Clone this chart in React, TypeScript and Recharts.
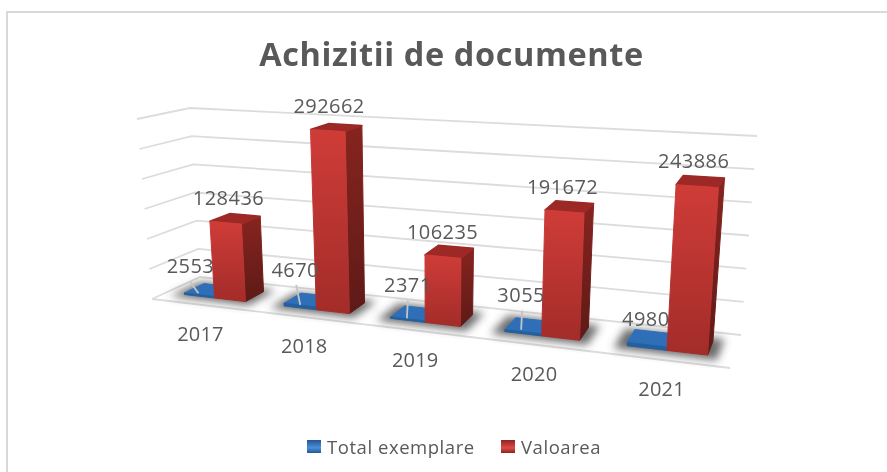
import React from "react";
import { BarChart, Bar, XAxis, YAxis, CartesianGrid, Legend, LabelList } from "recharts";

const categories = ["2017", "2018", "2019", "2020", "2021"];
const totalExemplare = [2553, 4670, 2371, 3055, 4980];
const valoarea = [128436, 292662, 106235, 191672, 243886];
const yTicks = [0, 50000, 100000, 150000, 200000, 250000, 300000];
const rows = categories.map((an, i) => ({ an, total: totalExemplare[i], valoare: valoarea[i] }));

const W = 887, H = 472;
const PT = 20, PB = 440;
const K = 1.188;
const FONT = "'Open Sans', 'Noto Sans', sans-serif";
const INK = "#595959";
const Z0 = 0.3, Z1 = 0.72;

type P = [number, number];
const corners: Record<string, P> = {
  fl0: [152, 299], fl1: [137, 119], fr0: [730, 368], fr1: [744, 157],
  bl0: [200, 277], bl1: [190, 108], br0: [741, 335], br1: [757, 136],
};
const mix = (a: P, b: P, t: number): P => [a[0] + (b[0] - a[0]) * t, a[1] + (b[1] - a[1]) * t];
function project(u: number, v: number, z: number): P {
  const w = u / (K - (K - 1) * u);
  const f0 = mix(corners.fl0, corners.fr0, w), f1 = mix(corners.fl1, corners.fr1, w);
  const b0 = mix(corners.bl0, corners.br0, w), b1 = mix(corners.bl1, corners.br1, w);
  return mix(mix(f0, b0, z), mix(f1, b1, z), v);
}
const uOf = (x: number) => x / W;
const vOf = (y: number) => (PB - y) / (PB - PT);
const pts = (a: P[]) => a.map((p) => p.map((n) => n.toFixed(1)).join(",")).join(" ");

function box(x: number, y: number, width: number, height: number) {
  const u0 = uOf(x), u1 = uOf(x + width), v1 = vOf(y), v0 = vOf(y + height);
  return {
    front: [project(u0, v1, Z0), project(u1, v1, Z0), project(u1, v0, Z0), project(u0, v0, Z0)],
    side: [project(u1, v1, Z0), project(u1, v1, Z1), project(u1, v0, Z1), project(u1, v0, Z0)],
    top: [project(u0, v1, Z0), project(u0, v1, Z1), project(u1, v1, Z1), project(u1, v1, Z0)],
  };
}

function RedBar(p: any) {
  const b = box(p.x, p.y, p.width, p.height);
  return (
    <g strokeLinejoin="round">
      <polygon points={pts(b.side)} fill="url(#redSide)" stroke="url(#redSide)" strokeWidth={1} />
      <polygon points={pts(b.top)} fill="#9c2926" stroke="#9c2926" strokeWidth={1.5} />
      <polygon points={pts(b.front)} fill="url(#redFront)" stroke="url(#redFront)" strokeWidth={1} />
    </g>
  );
}

function BlueBar(p: any) {
  const u0 = uOf(p.x - 16), u1 = uOf(p.x + 2 * p.width + 14);
  const shadow = [project(u0, 0, Z0 - 0.12), project(u0, 0, Z1 + 0.1), project(u1, 0, Z1 + 0.1), project(u1, 0, Z0 - 0.12)];
  const b = box(p.x, p.y, p.width, p.height);
  return (
    <g strokeLinejoin="round">
      <polygon points={pts(shadow)} fill="#444" opacity={0.8} filter="url(#floorShadow)" />
      <polygon points={pts(b.side)} fill="#1f4f8a" />
      <polygon points={pts(b.top)} fill="#2e6fb7" stroke="#2e6fb7" strokeWidth={1} />
      <polygon points={pts(b.front)} fill="#24609f" stroke="#24609f" strokeWidth={1} />
    </g>
  );
}

const blueLabelNudge: P[] = [[-9, -30], [-5, -38], [0, -35], [-2, -39], [-1, -29]];
const blueLeaders: (number[] | null)[] = [
  [-9, -14, -1, -3], [-4, -23, 0, -3], [0, -20, -1, -2], [-1, -23, -2, -4], null,
];

function labelText(x: number, y: number, value: any) {
  return (
    <text x={x} y={y + 7} textAnchor="middle" fontFamily={FONT} fontSize={20} letterSpacing={0.45} fill={INK}>
      {value}
    </text>
  );
}

function BlueLabel(p: any) {
  const [ax, ay] = project(uOf(p.x + p.width / 2), 0, Z0);
  const n = blueLabelNudge[p.index];
  const l = blueLeaders[p.index];
  return (
    <g>
      {l && <line x1={ax + l[0]} y1={ay + l[1]} x2={ax + l[2]} y2={ay + l[3]} stroke="#c4c4c4" strokeWidth={1.8} />}
      {labelText(ax + n[0], ay + n[1], p.value)}
    </g>
  );
}

function RedLabel(p: any) {
  const u = uOf(p.x + p.width / 2);
  const [ax, ay] = project(u, vOf(p.y), Z0);
  return labelText(ax + 4 - 8 * u, ay - 25, p.value);
}

function YearTick(p: any) {
  const [ax, ay] = project(uOf(p.x), 0, 0);
  return (
    <text x={ax - 1} y={ay + 36} textAnchor="middle" fontFamily={FONT} fontSize={20} letterSpacing={0.2} fill={INK}>
      {p.payload.value}
    </text>
  );
}

function gridLine(p: any) {
  const v = vOf(p.y1);
  const a = project(0, v, 0), b = project(0, v, 1), c = project(1, v, 1);
  const isFloor = Math.abs(v) < 1e-6;
  const d = `M${pts([a, b, c]).replace(/ /g, "L")}` + (isFloor ? `M${pts([a, project(1, 0, 0)]).replace(/ /g, "L")}` : "");
  return <path key={p.key} d={d} fill="none" stroke="#dcdcdc" strokeWidth={1.8} />;
}

const swatches: Record<string, string> = {
  "Total exemplare": "linear-gradient(#25568f, #4a8fdc 60%, #25568f)",
  Valoarea: "linear-gradient(#8f2422, #dd4a46 60%, #8f2422)",
};

function LegendRow({ payload }: any) {
  return (
    <div style={{ position: "relative", height: 30, fontFamily: FONT, fontSize: 18.5, color: INK, letterSpacing: 0.55, lineHeight: "30px" }}>
      {(payload || []).map((e: any, i: number) => (
        <React.Fragment key={e.value}>
          <span style={{ position: "absolute", left: i === 0 ? 307 : 501, top: 8, width: 14, height: 13, background: swatches[e.value] }} />
          <span style={{ position: "absolute", left: i === 0 ? 327 : 521, top: 0, whiteSpace: "nowrap" }}>{e.value}</span>
        </React.Fragment>
      ))}
    </div>
  );
}

export default function App() {
  return (
    <div style={{ position: "absolute", left: 0, top: 0, width: W, height: H, background: "#fff", overflow: "hidden" }}>
      <div style={{ filter: "blur(0.45px)", width: W, height: H, position: "relative" }}>
        <div style={{ position: "absolute", left: 6, top: 11, width: 900, height: 500, border: "2px solid #d9d9d9", boxSizing: "border-box" }} />
        <BarChart
          width={W}
          height={H}
          data={rows}
          margin={{ top: PT, right: 0, bottom: 2, left: 0 }}
          barGap={0}
          barCategoryGap="18.75%"
        >
          <defs>
            <linearGradient id="redFront" x1="0" y1="0" x2="0" y2="1">
              <stop offset="0" stopColor="#cf3c38" />
              <stop offset="1" stopColor="#a32c29" />
            </linearGradient>
            <linearGradient id="redSide" x1="0" y1="0" x2="0" y2="1">
              <stop offset="0" stopColor="#87241f" />
              <stop offset="1" stopColor="#5e1a17" />
            </linearGradient>
            <filter id="floorShadow" x="-30%" y="-100%" width="160%" height="300%">
              <feGaussianBlur stdDeviation="4.5" />
            </filter>
          </defs>
          <text x={451.5} y={66} textAnchor="middle" fontFamily={FONT} fontWeight={700} fontSize={32.5} letterSpacing={0.6} fill={INK}>
            Achizitii de documente
          </text>
          <CartesianGrid vertical={false} horizontal={gridLine} />
          <XAxis dataKey="an" height={30} axisLine={false} tickLine={false} tick={YearTick} interval={0} />
          <YAxis hide domain={[0, 300000]} ticks={yTicks} />
          <Legend
            layout="horizontal"
            verticalAlign="middle"
            align="center"
            wrapperStyle={{ top: 432, left: 0, width: W }}
            content={LegendRow}
          />
          <Bar dataKey="total" name="Total exemplare" fill="#2e6fb7" shape={BlueBar} isAnimationActive={false}>
            <LabelList dataKey="total" content={BlueLabel} />
          </Bar>
          <Bar dataKey="valoare" name="Valoarea" fill="#c93a36" shape={RedBar} isAnimationActive={false}>
            <LabelList dataKey="valoare" content={RedLabel} />
          </Bar>
        </BarChart>
      </div>
    </div>
  );
}
